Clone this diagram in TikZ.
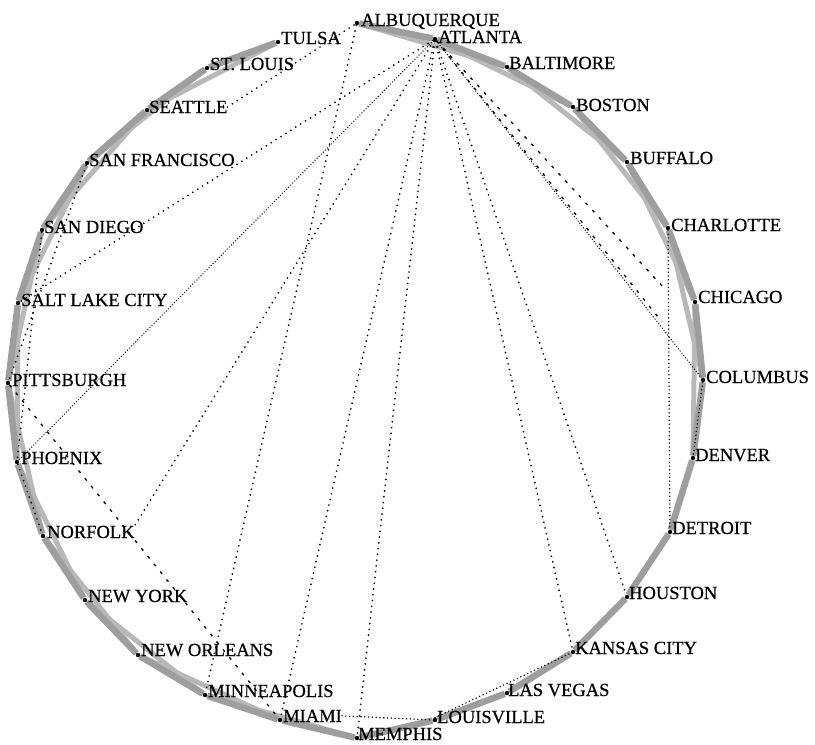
\documentclass[tikz,border=0pt]{standalone}
\usepackage{fontspec}
\setmainfont{Liberation Serif}[FakeBold=0.5]
\usetikzlibrary{backgrounds}
\begin{document}
\begin{tikzpicture}[x=1pt,y=-1pt,
  dot/.style={circle,fill=black,inner sep=0pt,minimum size=4.4pt},
  lbl/.style={anchor=base west,inner sep=0pt,font=\fontsize{18.5}{20}\selectfont},
  band/.style={line width=6.5pt,draw=black!38},
  skipband/.style={line width=5pt,draw=black!28},
  chord/.style={line width=1.9pt,line cap=round,dash pattern=on 0pt off 5.8pt,draw=black},
  dense/.style={line width=1.4pt,line cap=round,dash pattern=on 0pt off 2.9pt,draw=black},
  mid/.style={line width=1.6pt,line cap=round,dash pattern=on 0pt off 3.8pt,draw=black},
  dashchord/.style={line width=1.3pt,dash pattern=on 3pt off 7pt,draw=black}]
\useasboundingbox (0,0) rectangle (815,745);
% city dots
\node[dot] (alb) at (357,23) {};
\node[dot] (atl) at (435,39) {};
\node[dot] (bal) at (507,67) {};
\node[dot] (bos) at (573,107) {};
\node[dot] (buf) at (627,162) {};
\node[dot] (cha) at (668,228) {};
\node[dot] (chi) at (695,302) {};
\node[dot] (col) at (703,380) {};
\node[dot] (den) at (693,458) {};
\node[dot] (det) at (670,532) {};
\node[dot] (hou) at (627,597) {};
\node[dot] (kc)  at (573,652) {};
\node[dot] (lv)  at (507,693) {};
\node[dot] (lou) at (435,720) {};
\node[dot] (mem) at (357,738) {};
\node[dot] (mia) at (280,720) {};
\node[dot] (min) at (205,695) {};
\node[dot] (no)  at (138,655) {};
\node[dot] (ny)  at (85,600) {};
\node[dot] (nf)  at (43,536) {};
\node[dot] (phx) at (17,462) {};
\node[dot] (pit) at (8,383) {};
\node[dot] (slc) at (18,303) {};
\node[dot] (sd)  at (42,230) {};
\node[dot] (sf)  at (87,163) {};
\node[dot] (sea) at (147,110) {};
\node[dot] (stl) at (207,68) {};
\node[dot] (tul) at (278,42) {};
% labels
\node[lbl] (alb-l) at (361,26) {ALBUQUERQUE};
\node[lbl] (atl-l) at (438,43) {ATLANTA};
\node[lbl] (bal-l) at (509,69) {BALTIMORE};
\node[lbl] (bos-l) at (576,111) {BOSTON};
\node[lbl] (buf-l) at (630,164) {BUFFALO};
\node[lbl] (cha-l) at (671,231) {CHARLOTTE};
\node[lbl] (chi-l) at (698,303) {CHICAGO};
\node[lbl] (col-l) at (706,383) {COLUMBUS};
\node[lbl] (den-l) at (695,461) {DENVER};
\node[lbl] (det-l) at (672,534) {DETROIT};
\node[lbl] (hou-l) at (629,599) {HOUSTON};
\node[lbl] (kc-l)  at (575,654) {KANSAS CITY};
\node[lbl] (lv-l)  at (508,696) {LAS VEGAS};
\node[lbl] (lou-l) at (437,723) {LOUISVILLE};
\node[lbl] (mem-l) at (358,740) {MEMPHIS};
\node[lbl] (mia-l) at (283,722) {MIAMI};
\node[lbl] (min-l) at (208,697) {MINNEAPOLIS};
\node[lbl] (no-l)  at (141,656) {NEW ORLEANS};
\node[lbl] (ny-l)  at (88,602) {NEW YORK};
\node[lbl] (nf-l)  at (47,538) {NORFOLK};
\node[lbl] (phx-l) at (21,464) {PHOENIX};
\node[lbl] (pit-l) at (12,386) {PITTSBURGH};
\node[lbl] (slc-l) at (21,306) {SALT LAKE CITY};
\node[lbl] (sd-l)  at (44,233) {SAN DIEGO};
\node[lbl] (sf-l)  at (89,166) {SAN FRANCISCO};
\node[lbl] (sea-l) at (149,113) {SEATTLE};
\node[lbl] (stl-l) at (210,70) {ST. LOUIS};
\node[lbl] (tul-l) at (281,44) {TULSA};
\coordinate (dA) at (662,322);
\coordinate (dB) at (664,288);
\begin{scope}[on background layer]
  % second-neighbour bands
  \draw[skipband] (alb) -- (bal);
  \draw[skipband] (atl) -- (bos);
  \draw[skipband] (bal) -- (buf);
  \draw[skipband] (bos) -- (cha);
  \draw[skipband] (buf) -- (chi);
  \draw[skipband] (cha) -- (col);
  \draw[skipband] (chi) -- (den);
  \draw[skipband] (tul) -- (sea);
  \draw[skipband] (stl) -- (sf);
  \draw[skipband] (sea) -- (sd);
  \draw[skipband] (sf) -- (slc);
  \draw[skipband] (sd) -- (pit);
  \draw[skipband] (slc) -- (phx);
  \draw[skipband] (pit) -- (nf);
  \draw[skipband] (phx) -- (ny);
  \draw[skipband] (nf) -- (no);
  \draw[skipband] (ny) -- (min);
  \draw[skipband] (no) -- (mia);
  \draw[skipband] (min) -- (mem);
  % perimeter bands
  \draw[band,line join=round] (alb) -- (atl) -- (bal) -- (bos) -- (buf) -- (cha) -- (chi) -- (col)
     -- (den) -- (det) -- (hou) -- (kc) -- (lv) -- (lou) -- (mem) -- (mia) -- (min)
     -- (no) -- (ny) -- (nf) -- (phx) -- (pit) -- (slc) -- (sd) -- (sf) -- (sea)
     -- (stl) -- (tul);
  % long chords
  \draw[dense] (atl) -- (phx);
  \draw[dense] (atl) -- (col);
  \draw[chord] (alb) -- (min);
  \draw[chord] (atl) -- (mia);
  \draw[chord] (atl) -- (mem);
  \draw[chord] (atl) -- (kc);
  \draw[chord] (atl) -- (hou);
  \draw[chord] (atl) -- (nf-l.north east);
  \draw[chord] (atl) -- (slc);
  \draw[chord] (sea-l.east) -- (alb);
  \draw[dashchord] (atl) -- (dA);
  \draw[dashchord] (atl) -- (dB);
  \draw[mid] (cha) -- (det);
  \draw[mid] (col) -- (den);
  \draw[dashchord] (pit) -- (mia);
  \draw[mid] (mia-l.east) -- (lou);
  \draw[mid] (lou.north) -- (kc);
  \draw[chord] (sd) -- (phx);
  \draw[chord] (sf) -- (pit);
  \draw[chord] (phx) -- (nf);
\end{scope}
\end{tikzpicture}
\end{document}
